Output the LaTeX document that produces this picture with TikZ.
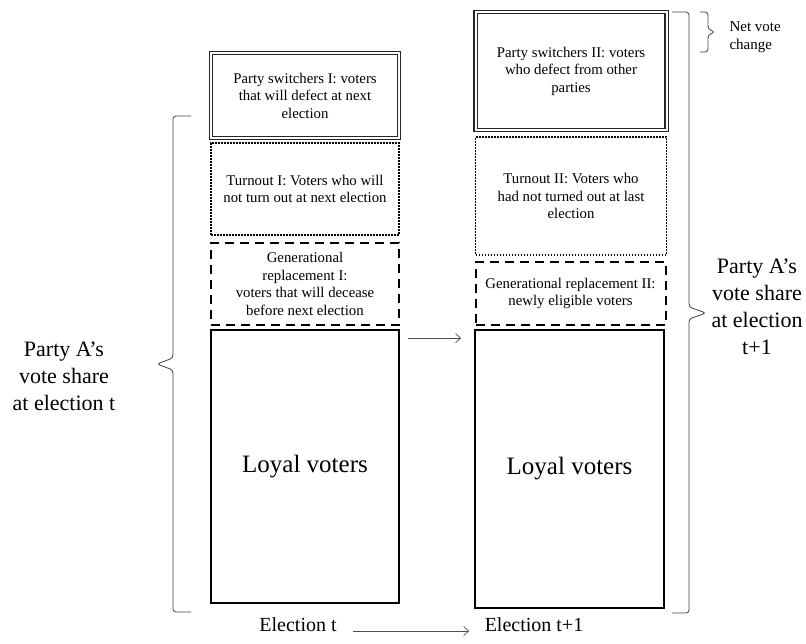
\documentclass[tikz,border=0pt]{standalone}
\usepackage{fontspec}
\setmainfont{Liberation Serif}
\usetikzlibrary{arrows.meta}

\tikzset{
    votebox/.style={draw, align=center, inner sep=2pt, font=\fontsize{14.8}{17.5}\selectfont},
    switchbox/.style={votebox, double, double distance=2pt, line width=1.1pt, draw=black!85},
    turnoutbox/.style={votebox, line width=1.6pt, dash pattern=on 1.6pt off 1.4pt},
    genbox/.style={votebox, line width=2pt, dash pattern=on 9pt off 6pt},
    loyalbox/.style={votebox, line width=1.8pt, font=\fontsize{25}{29}\selectfont},
    sharelabel/.style={align=center, font=\fontsize{22}{27}\selectfont},
    brc/.style={line width=0.8pt, draw=black!75, rounded corners=3pt},
    flow/.style={-{Straight Barb[length=5pt,width=9pt]}, line width=0.7pt, draw=black!70}
}

\begin{document}
\begin{tikzpicture}[x=1pt, y=-1pt]
    \useasboundingbox (0,0) rectangle (806,643);

    % Election t
    \node[switchbox, minimum width=188pt, minimum height=85pt] (switchI) at (305,95.5)
        {Party switchers I: voters\\that will defect at next\\election};
    \node[turnoutbox, minimum width=188pt, minimum height=92pt] (turnoutI) at (305,189)
        {Turnout I: Voters who will\\not turn out at next election};
    \node[genbox, minimum width=188pt, minimum height=82pt] (genI) at (305,284)
        {Generational\\replacement I:\\voters that will decease\\before next election};
    \node[loyalbox, minimum width=188pt, minimum height=273pt] (loyalI) at (305,466.5) {Loyal voters};

    % Election t+1
    \node[switchbox, minimum width=191pt, minimum height=118pt] (switchII) at (571,71)
        {Party switchers II: voters\\who defect from other\\parties};
    \node[turnoutbox, minimum width=191pt, minimum height=118pt] (turnoutII) at (571,196)
        {Turnout II: Voters who\\had not turned out at last\\election};
    \node[genbox, minimum width=190pt, minimum height=63pt] (genII) at (570.5,293.5)
        {Generational replacement II:\\newly eligible voters};
    \node[loyalbox, minimum width=189pt, minimum height=278pt] (loyalII) at (569.5,469) {Loyal voters};

    % Side labels
    \node[sharelabel] (shareT) at (64,376) {Party A's\\vote share\\at election t};
    \node[sharelabel] (shareT1) at (757,307) {Party A's\\vote share\\at election\\t+1};
    \node[anchor=west, align=left, font=\fontsize{15}{18}\selectfont] (netchange) at (726,37) {Net vote\\change};

    % Braces
    \draw[brc] (191,116) -- (173,116) -- (173,358) -- (157,364) -- (173,370) -- (173,612) -- (191,612);
    \draw[brc] (672,12) -- (689,12) -- (689,307) -- (706,313) -- (689,319) -- (689,613) -- (672,613);
    \draw[brc] (700,12) -- (708,12) -- (708,29) -- (715,32) -- (708,35) -- (708,52) -- (700,52);

    % Time axis
    \node[font=\fontsize{20}{24}\selectfont] (electT) at (298,625) {Election t};
    \node[font=\fontsize{20}{24}\selectfont] (electT1) at (534,625) {Election t+1};
    \draw[flow, shorten <=13pt, shorten >=12pt] ([yshift=-6pt]electT.east) -- ([yshift=-6pt]electT1.west);
    \draw[flow, shorten <=8pt, shorten >=13pt] ([yshift=-9pt]loyalI.north east) -- ([yshift=-9pt]loyalII.north west);
\end{tikzpicture}
\end{document}
